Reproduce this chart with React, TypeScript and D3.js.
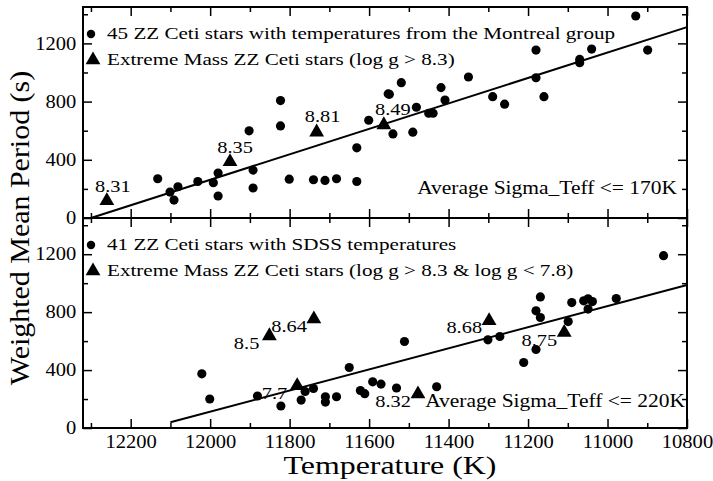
import React, { useEffect, useRef } from 'react';
import * as d3 from 'd3';

// [temperature K, weighted mean period s]
const topStars: Array<[number, number]> = [
  [12132, 270], [12101, 178], [12091, 123], [12081, 215], [12031, 251], [11992, 242],
  [11980, 309], [11980, 151], [11902, 599], [11892, 329], [11892, 206], [11823, 807],
  [11823, 633], [11801, 267], [11740, 263], [11711, 258], [11682, 270], [11631, 251],
  [11631, 482], [11601, 672], [11552, 853], [11549, 850], [11540, 578], [11519, 930],
  [11490, 590], [11481, 761], [11450, 720], [11439, 720], [11419, 896], [11409, 811],
  [11350, 969], [11289, 834], [11259, 782], [11180, 1154], [11180, 964], [11160, 834],
  [11070, 1090], [11070, 1067], [11040, 1161], [10929, 1388], [10899, 1154],
];
const topExtreme: Array<[number, number, string]> = [
  [12260, 125, '8.31'], [11950, 393, '8.35'], [11732, 597, '8.81'], [11563, 647, '8.49'],
];
const topFit: Array<[number, number]> = [[12300, 0], [10800, 1312]];

const botStars: Array<[number, number]> = [
  [12021, 374], [12001, 200], [11881, 221], [11822, 152], [11771, 193], [11761, 252],
  [11740, 273], [11710, 216], [11710, 179], [11682, 216], [11650, 418], [11622, 259],
  [11611, 237], [11591, 319], [11570, 303], [11531, 276], [11511, 597], [11430, 285],
  [11301, 609], [11271, 632], [11211, 452], [11180, 542], [11180, 809], [11169, 905],
  [11169, 763], [11099, 735], [11090, 866], [11060, 878], [11049, 892], [11038, 873],
  [11049, 821], [10978, 894], [10859, 1190],
];
const botExtreme: Array<[number, number, string]> = [
  [11851, 643, '8.5'], [11739, 759, '8.64'], [11781, 299, '7.7'],
  [11477, 241, '8.32'], [11298, 747, '8.68'], [11109, 666, '8.75'],
];
const botFit: Array<[number, number]> = [[12100, 40], [10800, 988]];

const tempDomain = [12320, 10800];
const periodDomain = [0, 1450];
const periodMajor = [0, 400, 800, 1200];
const periodMinor = [200, 600, 1000, 1400];
const tempMajor = [12200, 12000, 11800, 11600, 11400, 11200, 11000, 10800];
const tempMinor = [12300, 12100, 11900, 11700, 11500, 11300, 11100, 10900];

const topLegend = [
  '45 ZZ Ceti stars with temperatures from the Montreal group',
  'Extreme Mass ZZ Ceti stars (log g > 8.3)',
];
const botLegend = [
  '41 ZZ Ceti stars with SDSS temperatures',
  'Extreme Mass ZZ Ceti stars (log g > 8.3 & log g < 7.8)',
];
const topNote = 'Average Sigma_Teff <= 170K';
const botNote = 'Average Sigma_Teff <= 220K';

// label offsets (px) relative to the triangle they annotate
const labelOffsets: Record<string, [number, number, string]> = {
  '8.31': [6, -8, 'middle'],
  '8.35': [5, -8, 'middle'],
  '8.81': [6, -9, 'middle'],
  '8.49': [9, -9, 'middle'],
  '8.5': [-10, 14, 'end'],
  '8.64': [-7, 14, 'end'],
  '7.7': [-10, 14, 'end'],
  '8.32': [-7, 14, 'end'],
  '8.68': [-7, 13, 'end'],
  '8.75': [-7, 14, 'end'],
};

const FONT = "'Times New Roman', Times, 'Liberation Serif', serif";
// the reference glyphs are drawn wider than normal Times
const SX = 1.2;
const W = 713;
const H = 481;
const L = 83;
const R = 687;
const T0 = 7;
const MID = 218;
const B = 428;

export default function App() {
  const svgRef = useRef<SVGSVGElement>(null);

  useEffect(() => {
    if (!svgRef.current) return;
    const svg = d3.select(svgRef.current);
    svg.selectAll('*').remove();

    const x = d3.scaleLinear().domain(tempDomain).range([L, R]);
    const circle = d3.symbol().type(d3.symbolCircle).size(66);
    const legCircle = d3.symbol().type(d3.symbolCircle).size(56);
    const tri = d3.symbol().type(d3.symbolTriangle).size(95);

    const panel = (
      y0: number,
      y1: number,
      stars: Array<[number, number]>,
      extreme: Array<[number, number, string]>,
      fit: Array<[number, number]>,
      legend: string[],
      note: string,
      noteX: number,
      noteY: number,
      xLabels: boolean,
    ) => {
      const y = d3.scaleLinear().domain(periodDomain).range([y1, y0]);
      const g = svg.append('g');

      const axisStyle = (sel: d3.Selection<SVGGElement, unknown, null, undefined>) => {
        sel.attr('font-family', null).attr('font-size', null);
        sel.select('.domain').remove();
        sel.selectAll('line').attr('stroke', '#000').attr('stroke-width', 1.5);
        sel.selectAll('text')
          .attr('transform', 'scale(1.14,1)')
          .style('font-family', FONT).style('font-size', '18px').attr('fill', '#000');
      };

      // minor ticks
      g.append('g').attr('transform', `translate(${L},0)`)
        .call(d3.axisLeft(y).tickValues(periodMinor).tickSize(-5).tickFormat(() => ''))
        .call(axisStyle);
      g.append('g').attr('transform', `translate(${R},0)`)
        .call(d3.axisRight(y).tickValues(periodMinor).tickSize(-5).tickFormat(() => ''))
        .call(axisStyle);
      g.append('g').attr('transform', `translate(0,${y0})`)
        .call(d3.axisTop(x).tickValues(tempMinor).tickSize(-5).tickFormat(() => ''))
        .call(axisStyle);
      g.append('g').attr('transform', `translate(0,${y1})`)
        .call(d3.axisBottom(x).tickValues(tempMinor).tickSize(-5).tickFormat(() => ''))
        .call(axisStyle);

      // major ticks
      g.append('g').attr('transform', `translate(${L},0)`)
        .call(d3.axisLeft(y).tickValues(periodMajor).tickSize(-9).tickPadding(6).tickFormat(d3.format('d')))
        .call(axisStyle);
      g.append('g').attr('transform', `translate(${R},0)`)
        .call(d3.axisRight(y).tickValues(periodMajor).tickSize(-9).tickFormat(() => ''))
        .call(axisStyle);
      g.append('g').attr('transform', `translate(0,${y0})`)
        .call(d3.axisTop(x).tickValues(tempMajor).tickSize(-9).tickFormat(() => ''))
        .call(axisStyle);
      g.append('g').attr('transform', `translate(0,${y1})`)
        .call(d3.axisBottom(x).tickValues(tempMajor).tickSize(-9).tickPadding(7)
          .tickFormat(xLabels ? d3.format('d') : () => ''))
        .call(axisStyle);

      g.append('rect')
        .attr('x', L).attr('y', y0).attr('width', R - L).attr('height', y1 - y0)
        .attr('fill', 'none').attr('stroke', '#000').attr('stroke-width', 2);

      const line = d3.line<[number, number]>().x((d) => x(d[0])).y((d) => y(d[1]));
      g.append('path').attr('d', line(fit)).attr('fill', 'none')
        .attr('stroke', '#000').attr('stroke-width', 2);

      g.selectAll('.star').data(stars).enter().append('path')
        .attr('class', 'star')
        .attr('transform', (d) => `translate(${x(d[0])},${y(d[1])})`)
        .attr('d', circle());

      g.selectAll('.extreme').data(extreme).enter().append('path')
        .attr('class', 'extreme')
        .attr('transform', (d) => `translate(${x(d[0])},${y(d[1]) + 1})`)
        .attr('d', tri());

      g.selectAll('.elabel').data(extreme).enter().append('text')
        .attr('class', 'elabel')
        .attr('transform', (d) =>
          `translate(${x(d[0]) + labelOffsets[d[2]][0]},${y(d[1]) + labelOffsets[d[2]][1]}) scale(${SX},1)`)
        .attr('text-anchor', (d) => labelOffsets[d[2]][2])
        .style('font-family', FONT).style('font-size', '17px')
        .text((d) => d[2]);

      // legend
      const lg = g.append('g');
      lg.append('path').attr('transform', `translate(${L + 8},${y0 + 27})`).attr('d', legCircle());
      lg.append('path').attr('transform', `translate(${L + 10},${y0 + 53})`).attr('d', tri());
      lg.selectAll('text').data(legend).enter().append('text')
        .attr('transform', (_, i) => `translate(${L + 24},${y0 + 32 + i * 26}) scale(${SX},1)`)
        .style('font-family', FONT).style('font-size', '17.6px')
        .text((d) => d);

      g.append('text')
        .attr('transform', `translate(${noteX},${noteY}) scale(${SX},1)`)
        .attr('text-anchor', 'end')
        .style('font-family', FONT).style('font-size', '17.9px')
        .text(note);
    };

    panel(T0, MID, topStars, topExtreme, topFit, topLegend, topNote, R - 10, MID - 24, false);
    panel(MID, B, botStars, botExtreme, botFit, botLegend, botNote, R - 2, B - 21, true);

    svg.append('text')
      .attr('transform', 'translate(390,474) scale(1.25,1)')
      .attr('text-anchor', 'middle')
      .style('font-family', FONT).style('font-size', '25.5px')
      .text('Temperature (K)');

    svg.append('text')
      .attr('transform', 'translate(29,228) rotate(-90) scale(1.07,1)')
      .attr('text-anchor', 'middle')
      .style('font-family', FONT).style('font-size', '28px')
      .text('Weighted Mean Period (s)');
  }, []);

  return (
    <svg
      ref={svgRef}
      width={W}
      height={H}
      style={{ position: 'absolute', left: 0, top: 0, background: '#fff' }}
    />
  );
}
